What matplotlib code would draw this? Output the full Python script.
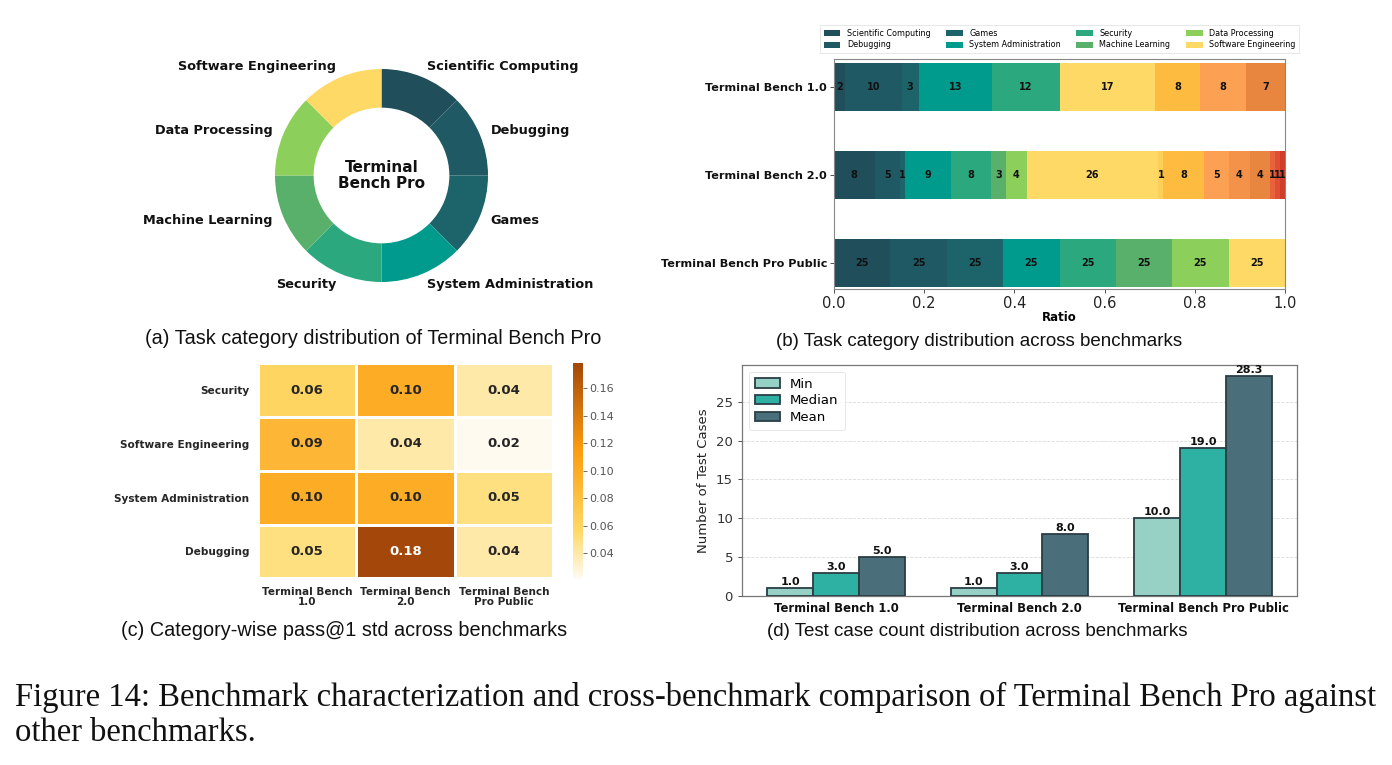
import numpy as np
import matplotlib
matplotlib.use("Agg")
import matplotlib.pyplot as plt
from matplotlib.colors import LinearSegmentedColormap

plt.rcParams['font.family'] = ['DejaVu Sans']

# ---------------- data ----------------
pro_categories = ["Scientific Computing", "Debugging", "Games", "System Administration",
                  "Security", "Machine Learning", "Data Processing", "Software Engineering"]
pro_shares = [1, 1, 1, 1, 1, 1, 1, 1]

extra_categories = ["Other A", "Other B", "Other C", "Other D",
                    "Other E", "Other F", "Other G", "Other H"]
bench_names = ["Terminal Bench 1.0", "Terminal Bench 2.0", "Terminal Bench Pro Public"]
tb1_counts = [2, 10, 3, 13, 12, 0, 0, 17, 0, 8, 8, 0, 7, 0, 0, 0]
tb2_counts = [8, 5, 1, 9, 8, 3, 4, 26, 1, 8, 5, 4, 4, 1, 1, 1]
pro_counts = [25, 25, 25, 25, 25, 25, 25, 25, 0, 0, 0, 0, 0, 0, 0, 0]

heat_rows = ["Security", "Software Engineering", "System Administration", "Debugging"]
heat_cols = ["Terminal Bench\n1.0", "Terminal Bench\n2.0", "Terminal Bench\nPro Public"]
heat_security = [0.06, 0.10, 0.04]
heat_softeng = [0.09, 0.04, 0.022]
heat_sysadmin = [0.10, 0.10, 0.05]
heat_debugging = [0.05, 0.178, 0.04]

tc_min = [1.0, 1.0, 10.0]
tc_median = [3.0, 3.0, 19.0]
tc_mean = [5.0, 8.0, 28.3]

# ---------------- styles ----------------
cat_colors = ['#214e5b', '#1f5963', '#1d636a', '#009b8d', '#2ca87e', '#58b06a', '#8ccf5a', '#ffd966',
              '#fdcf57', '#fdbb40', '#fca054', '#f4924a', '#e8853f', '#e8633b', '#df4f33', '#cf3d2b']

W, H = 1392, 765
fig = plt.figure(figsize=(W / 100, H / 100), dpi=100)
fig.patch.set_facecolor('white')


def box(x0, y0, x1, y1):
    return [x0 / W, 1 - y1 / H, (x1 - x0) / W, (y1 - y0) / H]


sub_family = ['Liberation Sans', 'DejaVu Sans']

# ---------------- (a) donut ----------------
cx, cy, r = 381.5, 175.5, 106.5
axa = fig.add_axes(box(cx - 1.25 * r, cy - 1.25 * r, cx + 1.25 * r, cy + 1.25 * r))
wedges, texts = axa.pie(pro_shares, labels=pro_categories, colors=cat_colors[:8], startangle=90,
                        counterclock=False, labeldistance=1.11,
                        wedgeprops=dict(width=0.363, linewidth=0),
                        textprops=dict(fontsize=9.3, fontweight='bold', color='#111111'))
axa.set_aspect('equal')
axa.text(0, 0, "Terminal\nBench Pro", ha='center', va='center', fontsize=11,
         fontweight='bold', color='#111111', linespacing=1.1)
fig.text(373 / W, 1 - 338 / H, "(a) Task category distribution of Terminal Bench Pro",
         ha='center', va='center', family=sub_family, fontsize=14.3, color='#111111')

# ---------------- (b) stacked bar ----------------
axb = fig.add_axes(box(834, 59, 1285, 289))
all_cats = pro_categories + extra_categories
counts = np.array([tb1_counts, tb2_counts, pro_counts], dtype=float)
ratios = counts / counts.sum(axis=1, keepdims=True)
ypos = np.arange(len(bench_names))
left = np.zeros(len(bench_names))
handles = []
for j, cat in enumerate(all_cats):
    bars = axb.barh(ypos, ratios[:, j], left=left, height=0.55, color=cat_colors[j],
                    linewidth=0, label=cat)
    if j < 8:
        handles.append(bars)
    for i in range(len(bench_names)):
        if counts[i, j] > 0:
            axb.text(left[i] + ratios[i, j] / 2, ypos[i], f"{int(counts[i, j])}",
                     ha='center', va='center', fontsize=7, fontweight='bold', color='#111111')
    left += ratios[:, j]
axb.set_xlim(0, 1)
axb.set_ylim(2.3, -0.32)
axb.set_yticks(ypos)
axb.set_yticklabels(bench_names, fontsize=8.1, fontweight='bold')
axb.set_xticks(np.arange(0, 1.01, 0.2))
axb.set_xticklabels([f"{v:.1f}" for v in np.arange(0, 1.01, 0.2)], fontsize=10.5)
axb.set_xlabel("Ratio", fontsize=8.5, fontweight='bold', labelpad=0)
for s in axb.spines.values():
    s.set_color('#888888')
    s.set_linewidth(0.8)
axb.tick_params(axis='both', colors='#333333', length=3, width=0.6, pad=2)
axb.tick_params(axis='x', labelcolor='#222222')
axb.tick_params(axis='y', labelcolor='#111111')
leg = axb.legend(handles=handles, labels=pro_categories, ncol=4, fontsize=5.8,
                 loc='lower center', bbox_to_anchor=(0.5, 1.01), frameon=True,
                 handlelength=2.1, handleheight=0.8, columnspacing=1.9, borderpad=0.4,
                 labelspacing=0.35, fancybox=False, edgecolor='#dddddd')
leg.get_frame().set_linewidth(0.6)
fig.text(979.5 / W, 1 - 341 / H, "(b) Task category distribution across benchmarks",
         ha='center', va='center', family=sub_family, fontsize=13.5, color='#111111')

# ---------------- (c) heatmap ----------------
axc = fig.add_axes(box(257.7, 363.3, 553.3, 578.3))
heat = np.array([heat_security, heat_softeng, heat_sysadmin, heat_debugging])
cmap = LinearSegmentedColormap.from_list(
    'ylorbr_custom', [(0.0, '#fffaf0'), (0.22, '#ffd966'), (0.6, '#fb9c0f'), (1.0, '#a3480a')])
vmin, vmax = heat.min(), heat.max()
mesh = axc.pcolormesh(heat, cmap=cmap, vmin=vmin, vmax=vmax, edgecolors='white', linewidth=1.0)
axc.set_xlim(0, heat.shape[1])
axc.set_ylim(heat.shape[0], 0)
for i in range(heat.shape[0]):
    for j in range(heat.shape[1]):
        v = heat[i, j]
        col = 'white' if (v - vmin) / (vmax - vmin) > 0.7 else '#262626'
        axc.text(j + 0.5, i + 0.5, f"{v:.2f}", ha='center', va='center', fontsize=9.5,
                 fontweight='bold', color=col)
axc.set_xticks(np.arange(heat.shape[1]) + 0.5)
axc.set_xticklabels(heat_cols, fontsize=7.5, fontweight='bold', color='#262626', linespacing=1.0)
axc.set_yticks(np.arange(heat.shape[0]) + 0.5)
axc.set_yticklabels(heat_rows, fontsize=7.6, fontweight='bold', color='#262626')
axc.tick_params(length=0, pad=6)
for s in axc.spines.values():
    s.set_visible(False)
cax = fig.add_axes(box(573.3, 363.3, 583.3, 578.3))
cb = fig.colorbar(mesh, cax=cax)
cb.outline.set_visible(False)
cb.set_ticks([0.04, 0.06, 0.08, 0.10, 0.12, 0.14, 0.16])
cb.ax.tick_params(labelsize=8, colors='#555555', length=3, width=0.6, pad=1)
cb.ax.set_yticklabels([f"{t:.2f}" for t in [0.04, 0.06, 0.08, 0.10, 0.12, 0.14, 0.16]])
fig.text(344 / W, 1 - 631 / H, "(c) Category-wise pass@1 std across benchmarks",
         ha='center', va='center', family=sub_family, fontsize=14.3, color='#111111')

# ---------------- (d) grouped bars ----------------
axd = fig.add_axes(box(742, 365, 1297, 596))
x = np.arange(len(bench_names))
bw = 0.25
series = [("Min", tc_min, '#97d1c5'), ("Median", tc_median, '#2eb0a2'), ("Mean", tc_mean, '#4b6f7a')]
for k, (name, vals, col) in enumerate(series):
    bars = axd.bar(x + (k - 1) * bw, vals, bw, color=col, edgecolor='#2a3d44', linewidth=1.3,
                   label=name, zorder=3)
    for b, v in zip(bars, vals):
        axd.text(b.get_x() + b.get_width() / 2, v + 0.15, f"{v:.1f}", ha='center', va='bottom',
                 fontsize=8, fontweight='bold', color='#111111', zorder=4)
axd.set_ylim(0, max(tc_mean) * 1.05)
axd.set_xticks(x)
axd.set_xticklabels(bench_names, fontsize=8.4, fontweight='bold')
axd.set_yticks([0, 5, 10, 15, 20, 25])
axd.tick_params(axis='y', labelsize=9.5, colors='#333333', length=3, width=0.6)
axd.tick_params(axis='x', length=0, pad=4, labelcolor='#111111')
axd.set_ylabel("Number of Test Cases", fontsize=9.5, color='#222222', labelpad=4)
axd.yaxis.grid(True, linestyle='--', color='#cccccc', linewidth=0.6, alpha=0.7, zorder=0)
axd.set_axisbelow(True)
for s in axd.spines.values():
    s.set_color('#777777')
    s.set_linewidth(0.9)
lg = axd.legend(loc='upper left', fontsize=9.5, frameon=True, handlelength=1.9,
                borderpad=0.45, labelspacing=0.3, edgecolor='#dddddd')
lg.get_frame().set_linewidth(0.6)
fig.text(977 / W, 1 - 632 / H, "(d) Test case count distribution across benchmarks",
         ha='center', va='center', family=sub_family, fontsize=13.5, color='#111111')

# ---------------- caption ----------------
cap_font = dict(family=['Liberation Serif', 'DejaVu Serif'], fontsize=23.5, color='#111111')
fig.text(15 / W, 1 - 697 / H,
         "Figure 14: Benchmark characterization and cross-benchmark comparison of Terminal Bench Pro against",
         ha='left', va='center', **cap_font)
fig.text(15 / W, 1 - 733 / H, "other benchmarks.", ha='left', va='center', **cap_font)

fig.savefig("out.png", dpi=100, facecolor='white')
